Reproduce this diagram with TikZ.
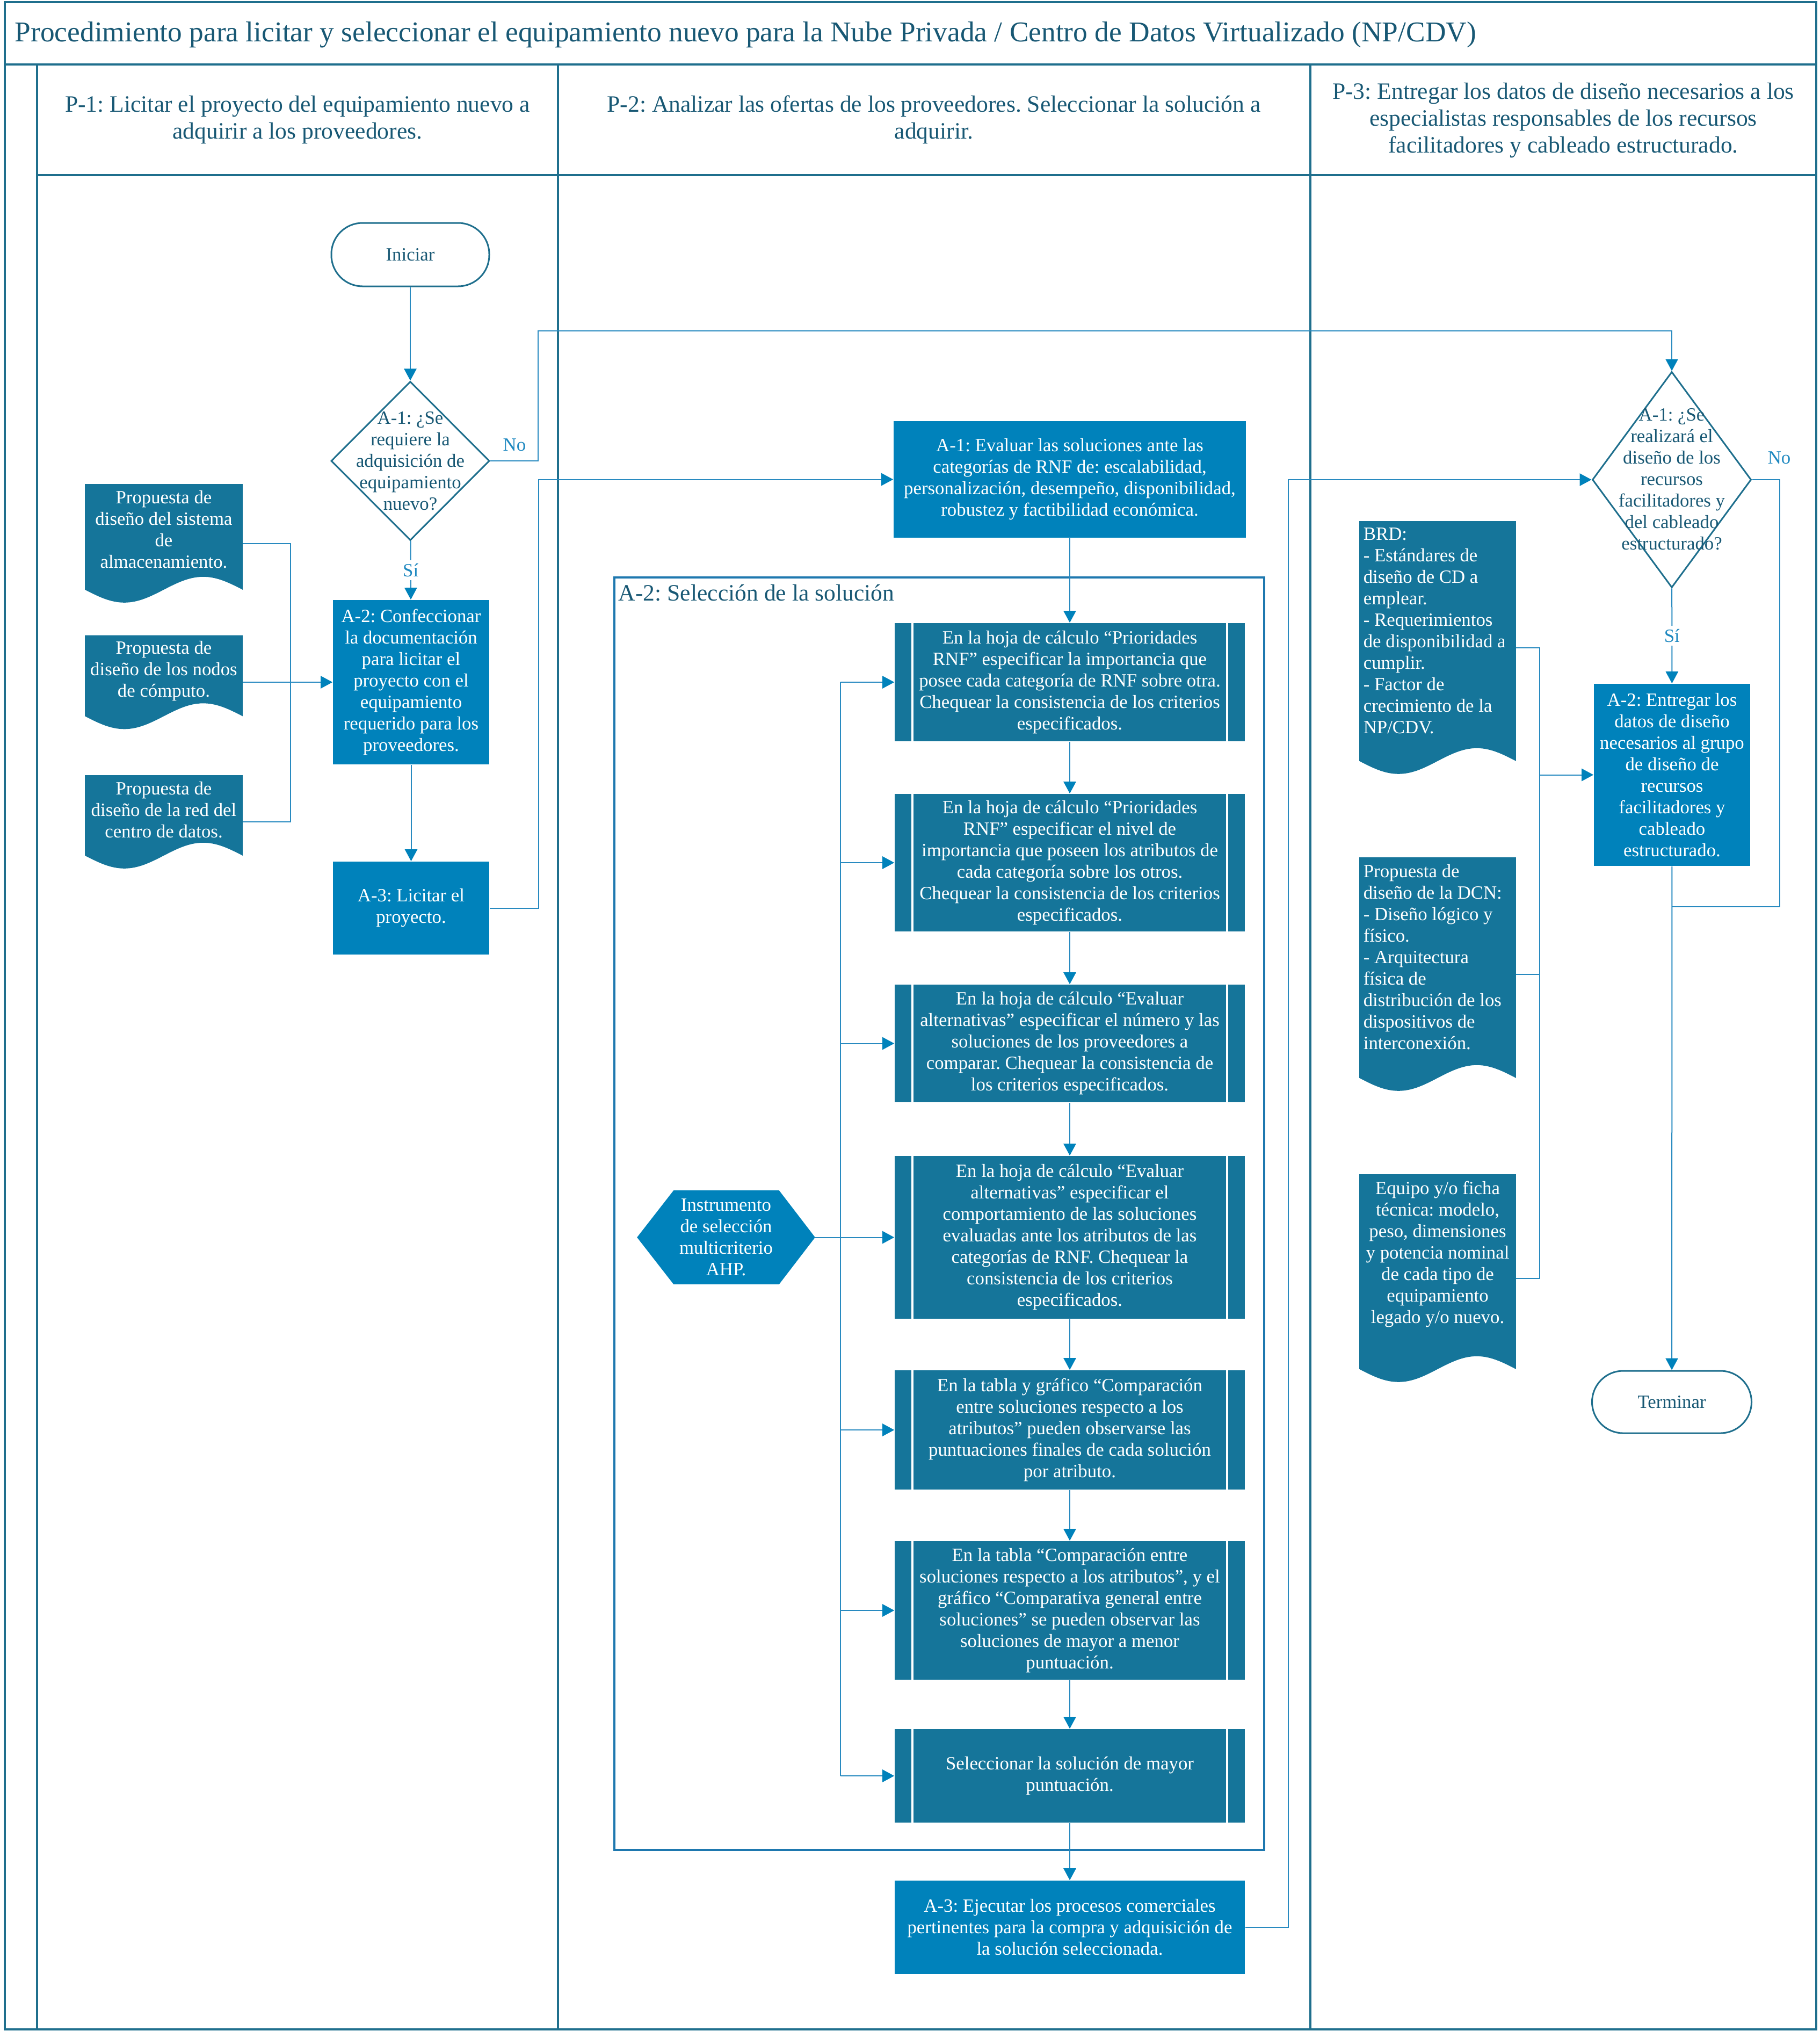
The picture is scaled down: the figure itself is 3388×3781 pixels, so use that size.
\documentclass[tikz,border=0pt]{standalone}
\usepackage{fontspec}
\setmainfont{Liberation Serif}
\usetikzlibrary{arrows.meta,calc,shapes.geometric}
\frenchspacing

\pgfdeclarelayer{background}
\pgfsetlayers{background,main}

\definecolor{framecol}{RGB}{31,111,141}
\definecolor{groupcol}{RGB}{30,120,175}
\definecolor{inkcol}{RGB}{24,88,116}
\definecolor{procfill}{RGB}{0,130,187}
\definecolor{subfill}{RGB}{21,117,154}
\definecolor{linkcol}{RGB}{40,138,192}
\definecolor{labelcol}{RGB}{30,136,192}

\newcommand{\fsBody}{\fontsize{8.7pt}{10pt}\selectfont}
\newcommand{\fsHead}{\fontsize{10.9pt}{12.5pt}\selectfont}
\newcommand{\fsTitle}{\fontsize{13.35pt}{15pt}\selectfont}

% document symbol (wavy bottom edge) filling the bounding node #1
\newcommand{\docsymbol}[1]{%
  \fill[subfill] (#1.north west) -- (#1.north east) -- ($(#1.south east)+(0,-24)$)
    sin ($(#1.south west)!0.75!(#1.south east)+(0,-48)$)
    cos ($(#1.south west)!0.5!(#1.south east)+(0,-24)$)
    sin ($(#1.south west)!0.25!(#1.south east)$)
    cos ($(#1.south west)+(0,-24)$) -- cycle;}

\tikzset{
  lane/.style={draw=framecol, line width=0.9pt},
  conn/.style={draw=linkcol, line width=0.5pt},
  arr/.style={conn, -{Triangle[length=5.5pt, width=5.8pt, color=procfill]}},
  boxtext/.style={font=\fsBody, align=center, inner sep=0pt},
  procbox/.style={boxtext, rectangle, fill=procfill, text=white},
  subbox/.style={procbox, fill=subfill, minimum width=163pt,
    path picture={
      \draw[white, line width=0.8pt]
        ([xshift=8.25pt]path picture bounding box.north west) -- ([xshift=8.25pt]path picture bounding box.south west)
        ([xshift=-8.25pt]path picture bounding box.north east) -- ([xshift=-8.25pt]path picture bounding box.south east);
    }},
  terminal/.style={boxtext, rectangle, rounded corners=14.5pt, draw=framecol, line width=0.75pt, text=inkcol},
  decision/.style={diamond, draw=framecol, line width=0.75pt, inner sep=0pt},
  docarea/.style={rectangle, inner sep=0pt},
  doctext/.style={boxtext, text=white},
  flag/.style={font=\fsBody, text=labelcol, inner sep=1.5pt},
  headtext/.style={font=\fsHead, text=inkcol, align=center, inner sep=0pt},
}

\begin{document}
\begin{tikzpicture}[x=0.25pt, y=-0.25pt]
\useasboundingbox (0,0) rectangle (3388,3781);

% ---------- frame and swimlanes ----------
\draw[lane] (9,4) rectangle (3382,3778);
\draw[lane] (9,120) -- (3382,120);
\draw[lane] (69,120) -- (69,3778);
\draw[lane] (69,326) -- (3382,326);
\draw[lane] (1039,120) -- (1039,3778);
\draw[lane] (2440,120) -- (2440,3778);

\node[font=\fsTitle, text=inkcol, anchor=base west, inner sep=0pt] (title) at (27,77)
  {Procedimiento para licitar y seleccionar el equipamiento nuevo para la Nube Privada / Centro de Datos Virtualizado (NP/CDV)};

\node[headtext] (h1) at (554,223) {P-1: Licitar el proyecto del equipamiento nuevo a\\adquirir a los proveedores.};
\node[headtext] (h2) at (1739,223) {P-2: Analizar las ofertas de los proveedores. Seleccionar la solución a\\adquirir.};
\node[headtext] (h3) at (2911,224) {P-3: Entregar los datos de diseño necesarios a los\\especialistas responsables de los recursos\\facilitadores y cableado estructurado.};

% ---------- P-1 ----------
\node[terminal, minimum width=73.5pt, minimum height=29.5pt] (ini) at (764,474) {Iniciar};
\node[decision, minimum width=73.75pt, minimum height=74pt] (d1) at (764,858) {};
\node[boxtext, text=inkcol] (d1t) at (764,858) {A-1: ¿Se\\requiere la\\adquisición de\\equipamiento\\nuevo?};
\node[procbox, minimum width=72.75pt, minimum height=76.5pt] (a2) at (765.5,1270)
  {A-2: Confeccionar\\la documentación\\para licitar el\\proyecto con el\\equipamiento\\requerido para los\\proveedores.};
\node[procbox, minimum width=72.75pt, minimum height=43.25pt] (a3) at (765.5,1690.5) {A-3: Licitar el\\proyecto.};

\node[docarea, minimum width=73pt, minimum height=54.75pt] (doc1) at (305,1011.5) {};
\node[docarea, minimum width=73pt, minimum height=43.25pt] (doc2) at (305,1270) {};
\node[docarea, minimum width=73pt, minimum height=43pt] (doc3) at (305,1530) {};
\node[doctext] (doc1t) at (305,986) {Propuesta de\\diseño del sistema\\de\\almacenamiento.};
\node[doctext] (doc2t) at (305,1249) {Propuesta de\\diseño de los nodos\\de cómputo.};
\node[doctext] (doc3t) at (305,1508) {Propuesta de\\diseño de la red del\\centro de datos.};

% ---------- P-2 ----------
\node[draw=groupcol, line width=0.9pt, rectangle, inner sep=0pt, anchor=north west,
      minimum width=302.5pt, minimum height=592.25pt] (grp) at (1142,1073) {};
\node[font=\fsHead, text=inkcol, anchor=west, inner sep=0pt] (grpt) at (1151,1104) {A-2: Selección de la solución};

\node[procbox, minimum width=164pt, minimum height=54.25pt] (b1) at (1992,892.5)
  {A-1: Evaluar las soluciones ante las\\categorías de RNF de: escalabilidad,\\personalización, desempeño, disponibilidad,\\robustez y factibilidad económica.};

\node[subbox, minimum height=55pt] (sp1) at (1992,1270)
  {En la hoja de cálculo “Prioridades\\RNF” especificar la importancia que\\posee cada categoría de RNF sobre otra.\\Chequear la consistencia de los criterios\\especificados.};
\node[subbox, minimum height=64pt] (sp2) at (1992,1606)
  {En la hoja de cálculo “Prioridades\\RNF” especificar el nivel de\\importancia que poseen los atributos de\\cada categoría sobre los otros.\\Chequear la consistencia de los criterios\\especificados.};
\node[subbox, minimum height=54.75pt] (sp3) at (1992,1942.5)
  {En la hoja de cálculo “Evaluar\\alternativas” especificar el número y las\\soluciones de los proveedores a\\comparar. Chequear la consistencia de\\los criterios especificados.};
\node[subbox, minimum height=75.75pt] (sp4) at (1992,2303.5)
  {En la hoja de cálculo “Evaluar\\alternativas” especificar el\\comportamiento de las soluciones\\evaluadas ante los atributos de las\\categorías de RNF. Chequear la\\consistencia de los criterios\\especificados.};
\node[subbox, minimum height=55.5pt] (sp5) at (1992,2662)
  {En la tabla y gráfico “Comparación\\entre soluciones respecto a los\\atributos” pueden observarse las\\puntuaciones finales de cada solución\\por atributo.};
\node[subbox, minimum height=64.5pt] (sp6) at (1992,2998)
  {En la tabla “Comparación entre\\soluciones respecto a los atributos”, y el\\gráfico “Comparativa general entre\\soluciones” se pueden observar las\\soluciones de mayor a menor\\puntuación.};
\node[subbox, minimum height=43.5pt] (sp7) at (1992,3306)
  {Seleccionar la solución de mayor\\puntuación.};
\node[procbox, minimum width=163pt, minimum height=43.5pt] (a3b) at (1992,3588)
  {A-3: Ejecutar los procesos comerciales\\pertinentes para la compra y adquisición de\\la solución seleccionada.};

\node[boxtext, text=white, minimum width=82.5pt, minimum height=43.25pt] (ahp) at (1352,2303.5)
  {Instrumento\\de selección\\multicriterio\\AHP.};

% ---------- P-3 ----------
\node[decision, minimum width=74pt, minimum height=100.5pt] (c1) at (3113,893) {};
\node[boxtext, text=inkcol] (c1t) at (3113,892) {A-1: ¿Se\\realizará el\\diseño de los\\recursos\\facilitadores y\\del cableado\\estructurado?};
\node[procbox, minimum width=72.75pt, minimum height=84.75pt] (a2c) at (3113.5,1442.5)
  {A-2: Entregar los\\datos de diseño\\necesarios al grupo\\de diseño de\\recursos\\facilitadores y\\cableado\\estructurado.};
\node[terminal, minimum width=74.25pt, minimum height=29pt] (term) at (3113,2610) {Terminar};

\node[docarea, minimum width=72.5pt, minimum height=117.25pt] (brd) at (2677,1205.5) {};
\node[docarea, minimum width=72.5pt, minimum height=108.25pt] (dcn) at (2677,1813.5) {};
\node[docarea, minimum width=72.5pt, minimum height=96.25pt] (equ) at (2677,2379.5) {};
\node[doctext, align=left, anchor=west] (brdt) at (2538,1174)
  {BRD:\\- Estándares de\\diseño de CD a\\emplear.\\- Requerimientos\\de disponibilidad a\\cumplir.\\- Factor de\\crecimiento de la\\NP/CDV.};
\node[doctext, align=left, anchor=west] (dcnt) at (2538,1782)
  {Propuesta de\\diseño de la DCN:\\- Diseño lógico y\\físico.\\- Arquitectura\\física de\\distribución de los\\dispositivos de\\interconexión.};
\node[doctext] (equt) at (2677,2334.5)
  {Equipo y/o ficha\\técnica: modelo,\\peso, dimensiones\\y potencia nominal\\de cada tipo de\\equipamiento\\legado y/o nuevo.};

% ---------- filled symbols behind the texts ----------
\begin{pgfonlayer}{background}
  \docsymbol{doc1}
  \docsymbol{doc2}
  \docsymbol{doc3}
  \docsymbol{brd}
  \docsymbol{dcn}
  \docsymbol{equ}
  \fill[procfill] (ahp.west) -- ($(ahp.north west)+(68,0)$) -- ($(ahp.north east)+(-67,0)$)
    -- (ahp.east) -- ($(ahp.south east)+(-67,0)$) -- ($(ahp.south west)+(68,0)$) -- cycle;
\end{pgfonlayer}

% ---------- routing points ----------
\coordinate (nA) at (1002,616);
\coordinate (jn) at (541,1270);
\coordinate (bA) at (1003,892.5);
\coordinate (cTop) at (1565,1270);
\coordinate (cBot) at (1565,3306);
\coordinate (rA) at (2399,893);
\coordinate (kTop) at (2867,1205.5);
\coordinate (kBot) at (2867,2379.5);
\coordinate (nB) at (3314,1688);
\coordinate (jt) at (3113,1688);

% ---------- connectors P-1 ----------
\draw[arr] (ini) -- (d1);
\draw[arr] (d1) -- node[flag, fill=white] (si1) {Sí} (a2);
\draw[arr] (a2) -- (a3);
\draw[arr] (d1.east) -| (nA) -| (c1.north);
\node[flag] (no1) at (958,828) {No};
\draw[conn] (doc1.east) -| (jn);
\draw[conn] (doc3.east) -| (jn);
\draw[arr] (doc2.east) -- (a2.west);
\draw[arr] (a3.east) -| (bA) -- (b1.west);

% ---------- connectors P-2 ----------
\draw[arr] (b1) -- (sp1);
\foreach \u/\v in {sp1/sp2, sp2/sp3, sp3/sp4, sp4/sp5, sp5/sp6, sp6/sp7, sp7/a3b}
  \draw[arr] (\u) -- (\v);
\draw[conn] (cTop) -- (cBot);
\foreach \u in {sp1, sp2, sp3, sp5, sp6, sp7}
  \draw[arr] (\u.west -| cTop) -- (\u.west);
\draw[arr] (ahp.east) -- (sp4.west);
\draw[arr] (a3b.east) -| (rA) -- (c1.west);

% ---------- connectors P-3 ----------
\draw[arr] (c1) -- node[flag, fill=white] (si2) {Sí} (a2c);
\draw[conn] (c1.east) -| (nB) -- (jt);
\node[flag] (no2) at (3313,852) {No};
\draw[arr] (a2c) -- (term);
\draw[conn] (brd.east) -- (kTop) -- (kBot) -- (equ.east);
\draw[conn] (dcn.east) -- (dcn.east -| kTop);
\draw[arr] (a2c.west -| kTop) -- (a2c.west);

\end{tikzpicture}
\end{document}
